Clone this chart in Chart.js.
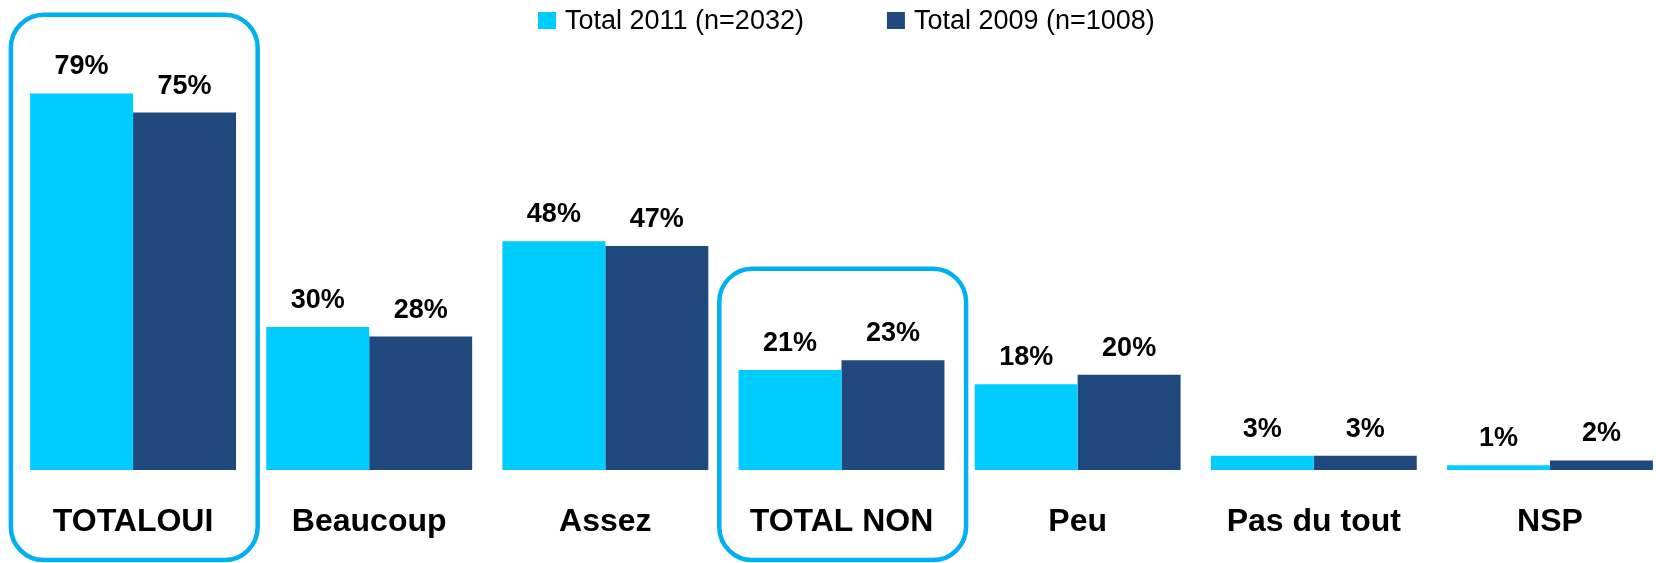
<!DOCTYPE html>
<html>
<head>
<meta charset="utf-8">
<script src="https://cdn.jsdelivr.net/npm/chart.js@4/dist/chart.umd.min.js"></script>
<style>
	html, body { margin: 0; padding: 0; background: #fff; overflow: hidden; }
	#wrap { position: relative; width: 1683px; height: 563px; }
</style>
</head>
<body>
<div id="wrap"><canvas id="survey-chart"></canvas></div>
<script>
var categories = ['TOTALOUI', 'Beaucoup', 'Assez', 'TOTAL NON', 'Peu', 'Pas du tout', 'NSP'];
var total2011 = [79, 30, 48, 21, 18, 3, 1];
var total2009 = [75, 28, 47, 23, 20, 3, 2];
var seriesLabels = ['Total 2011 (n=2032)', 'Total 2009 (n=1008)'];
// categories that get the rounded frame, with the value where the frame starts
var framedCategories = ['TOTALOUI', 'TOTAL NON'];
var frameTops = [95.5, 42.2];

(function () {
	'use strict';

	var LIGHT = '#00CCFF';
	var DARK = '#1F497D';
	var FRAME = '#00B0F0';
	var FONT = '"Liberation Sans", Arial, Helvetica, sans-serif';

	// Percent labels sitting above each bar.
	var valueLabels = {
		id: 'valueLabels',
		afterDatasetsDraw: function (chart) {
			var ctx = chart.ctx;
			ctx.save();
			ctx.font = 'bold 27px ' + FONT;
			ctx.fillStyle = '#000';
			ctx.textAlign = 'center';
			ctx.textBaseline = 'alphabetic';
			chart.data.datasets.forEach(function (ds, i) {
				chart.getDatasetMeta(i).data.forEach(function (bar, j) {
					ctx.fillText(ds.data[j] + '%', bar.x, bar.y - 19);
				});
			});
			ctx.restore();
		}
	};

	// Rounded frames around the totals.
	var totalFrames = {
		id: 'totalFrames',
		afterDraw: function (chart) {
			var ctx = chart.ctx;
			var x = chart.scales.x;
			var y = chart.scales.y;
			var half = x.width / categories.length / 2;
			ctx.save();
			ctx.strokeStyle = FRAME;
			ctx.lineWidth = 4.5;
			framedCategories.forEach(function (name, k) {
				var cx = x.getPixelForValue(categories.indexOf(name));
				var left = cx - half * 1.035;
				var top = y.getPixelForValue(frameTops[k]);
				var w = half * 2 * 1.045;
				var h = chart.height - 3 - top;
				ctx.beginPath();
				ctx.roundRect(left, top, w, h, 33);
				ctx.stroke();
			});
			ctx.restore();
		}
	};

	// Legend drawn as square swatches with the series names.
	var topLegend = {
		id: 'topLegend',
		afterDraw: function (chart) {
			var ctx = chart.ctx;
			var x = 538;
			ctx.save();
			ctx.font = '27px ' + FONT;
			ctx.textBaseline = 'alphabetic';
			ctx.textAlign = 'left';
			chart.data.datasets.forEach(function (ds) {
				ctx.fillStyle = ds.backgroundColor;
				ctx.fillRect(x, 12, 18, 17);
				ctx.fillStyle = '#000';
				ctx.fillText(ds.label, x + 27, 29);
				x += 27 + ctx.measureText(ds.label).width + 83;
			});
			ctx.restore();
		}
	};

	new Chart(document.getElementById('survey-chart').getContext('2d'), {
		type: 'bar',
		data: {
			labels: categories,
			datasets: [
				{
					label: seriesLabels[0],
					data: total2011,
					backgroundColor: LIGHT,
					borderWidth: 0
				},
				{
					label: seriesLabels[1],
					data: total2009,
					backgroundColor: DARK,
					borderWidth: 0
				}
			]
		},
		options: {
			responsive: true,
			maintainAspectRatio: false,
			animation: false,
			categoryPercentage: 0.872,
			barPercentage: 1,
			layout: {
				padding: { left: 15, right: 15, top: 41, bottom: 0 }
			},
			plugins: {
				legend: { display: false },
				tooltip: { enabled: false }
			},
			scales: {
				y: {
					display: false,
					min: 0,
					max: 90
				},
				x: {
					grid: { display: false },
					border: { display: false },
					ticks: {
						padding: 25,
						color: '#000',
						font: { family: FONT, size: 32, weight: 'bold' }
					},
					afterFit: function (scale) {
						scale.height = 93;
					}
				}
			}
		},
		plugins: [valueLabels, totalFrames, topLegend]
	});
})();
</script>
</body>
</html>
